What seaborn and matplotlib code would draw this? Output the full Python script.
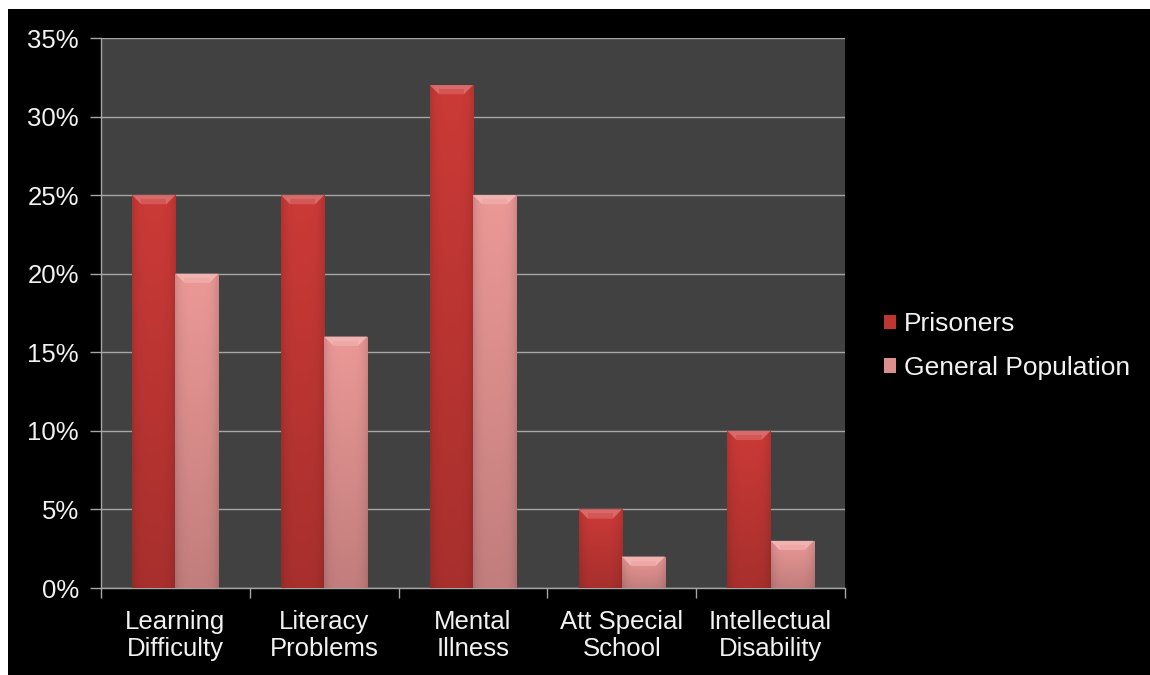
import numpy as np
import pandas as pd
import matplotlib
matplotlib.use("Agg")
import matplotlib.pyplot as plt
import seaborn as sns
from matplotlib.patches import Polygon, Rectangle
from matplotlib.colors import to_rgb
from matplotlib.ticker import FixedLocator, FuncFormatter

# ---- data ----
categories = ["Learning\nDifficulty", "Literacy\nProblems", "Mental\nIllness",
              "Att Special\nSchool", "Intellectual\nDisability"]
series = ["Prisoners", "General Population"]
prisoners = [25, 25, 32, 5, 10]
general_population = [20, 16, 25, 2, 3]
y_ticks = [0, 5, 10, 15, 20, 25, 30, 35]

df = pd.DataFrame({
    "category": categories * 2,
    "series": [series[0]] * len(categories) + [series[1]] * len(categories),
    "value": prisoners + general_population,
})

sns.set_theme(style="dark")
plt.rcParams["font.family"] = ["Liberation Sans", "DejaVu Sans"]

W, H = 1150, 675
fig = plt.figure(figsize=(W / 100, H / 100), dpi=100, facecolor="white")
fig.patches.append(Rectangle((8 / W, -0.01), 1.1, 1.01 - 9 / H, transform=fig.transFigure,
                             facecolor="black", edgecolor="none", zorder=-10))

ax = fig.add_axes([101 / W, 1 - 588 / H, (845 - 101) / W, (588 - 38) / H])
ax.set_zorder(1)
ax.set_facecolor("#414141")

colors = {"Prisoners": "#BE3633", "General Population": "#DC8F8D"}
sns.barplot(data=df, x="category", y="value", hue="series", palette=colors,
            hue_order=series, order=categories, width=0.58, ax=ax,
            saturation=1, edgecolor="none", linewidth=0, legend=False, zorder=3)

ax.set_xlim(-0.5, len(categories) - 0.5)
ax.set_ylim(0, 35)
fig.canvas.draw()

# pixel -> data conversion factors
p0 = ax.transData.transform((0, 0))
p1 = ax.transData.transform((1, 1))
px_x = p1[0] - p0[0]
px_y = p1[1] - p0[1]


def mix(c, other, t):
    c = np.array(to_rgb(c)); o = np.array(to_rgb(other))
    return tuple(np.clip(c * (1 - t) + o * t, 0, 1))


for patch in list(ax.patches):
    x0, y0 = patch.get_x(), patch.get_y()
    w, h = patch.get_width(), patch.get_height()
    if h <= 0:
        continue
    base = np.array(to_rgb(patch.get_facecolor()))
    # shading: darker edges, lighter top, darker bottom
    prof = np.linspace(-1, 1, 64)
    hshade = 1.0 - 0.12 * np.abs(prof) ** 4
    vshade = np.linspace(1.07, 0.88, 128)  # row 0 = top
    shade = vshade[:, None] * hshade[None, :]
    img = np.clip(base[None, None, :] * shade[:, :, None], 0, 1)
    im = ax.imshow(img, extent=[x0, x0 + w, y0, y0 + h], aspect="auto",
                   zorder=3.5, interpolation="bilinear")
    im.set_clip_path(patch)
    # top bevel
    bh = 9 / px_y
    d = 9 / px_x
    top = y0 + h
    ax.add_patch(Polygon([(x0, top), (x0 + w, top), (x0 + w - d, top - bh), (x0 + d, top - bh)],
                         closed=True, facecolor=mix(base * 1.07, "white", 0.25),
                         edgecolor="none", zorder=4))
    ax.add_patch(Polygon([(x0 + d, top - bh * 0.45), (x0 + w - d, top - bh * 0.45),
                          (x0 + w - d, top - bh), (x0 + d, top - bh)],
                         closed=True, facecolor=mix(base * 1.07, "white", 0.15),
                         edgecolor="none", zorder=4.1))

ax.set_xlim(-0.5, len(categories) - 0.5)
ax.set_ylim(0, 35)

# gridlines and axes
ax.yaxis.set_major_locator(FixedLocator(y_ticks))
ax.yaxis.set_major_formatter(FuncFormatter(lambda v, p: f"{v:.0f}%"))
ax.grid(axis="y", color="#A6A6A6", linewidth=1.0, zorder=1)
ax.grid(axis="x", visible=False)
ax.set_axisbelow(True)

for s in ["top", "right"]:
    ax.spines[s].set_visible(False)
for s in ["left", "bottom"]:
    ax.spines[s].set_visible(True)
    ax.spines[s].set_color("#A6A6A6")
    ax.spines[s].set_linewidth(1.0)

ax.xaxis.set_minor_locator(FixedLocator(np.arange(-0.5, len(categories), 1.0)))
ax.tick_params(axis="x", which="major", length=0, pad=16, labelsize=18.5,
               labelcolor="#F2F2F2")
ax.tick_params(axis="x", which="minor", length=7, width=1, color="#A6A6A6",
               direction="out", bottom=True)
ax.tick_params(axis="y", which="major", length=8, width=1, color="#A6A6A6",
               direction="out", left=True, pad=8, labelsize=18.5,
               labelcolor="#F2F2F2")
for lbl in ax.get_xticklabels():
    lbl.set_linespacing(1.15)

ax.set_xlabel("")
ax.set_ylabel("")

# legend
handles = [Rectangle((0, 0), 1, 1, facecolor=colors[s], edgecolor="none") for s in series]
fig.legend(handles, series, loc="center left", bbox_to_anchor=(884 / W, 1 - 346 / H),
           bbox_transform=fig.transFigure, frameon=False, fontsize=19,
           labelcolor="#F2F2F2", handlelength=0.45, handleheight=0.45,
           handletextpad=0.3, labelspacing=0.75, borderpad=0, borderaxespad=0)

fig.savefig("out.png", dpi=100, facecolor=fig.get_facecolor())
